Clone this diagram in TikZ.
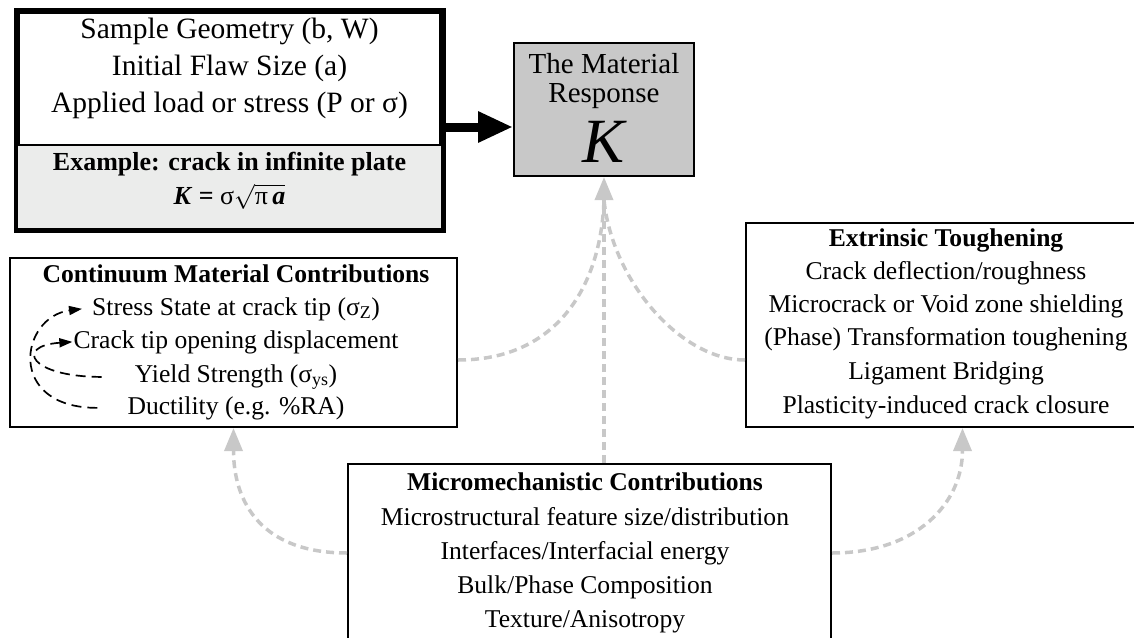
\documentclass[tikz,border=0pt]{standalone}
\usepackage{fontspec}
\setmainfont{Liberation Serif}
\usetikzlibrary{arrows.meta,calc}
\definecolor{kfill}{RGB}{200,200,200}
\definecolor{lowfill}{RGB}{235,236,235}
\definecolor{conn}{RGB}{200,200,200}
\begin{document}
\begin{tikzpicture}[x=1pt,y=-1pt,
  box/.style={draw, line width=2pt, inner sep=0pt},
  txt/.style={anchor=base, inner sep=0pt, font=\fontsize{25.6}{30}\selectfont},
  ttl/.style={anchor=base, inner sep=0pt, font=\fontsize{25.6}{30}\selectfont\bfseries},
  big/.style={anchor=base, inner sep=0pt, font=\fontsize{29}{34}\selectfont},
  geotxt/.style={anchor=base, inner sep=0pt, font=\fontsize{29.5}{34}\selectfont},
  gconn/.style={draw=conn, line width=3.5pt, dash pattern=on 8pt off 5pt},
  garrow/.style={gconn, -{Triangle[width=18pt,length=23pt,fill=conn]}},
  barrow/.style={draw, line width=1.7pt, dash pattern=on 10pt off 6pt, -{Triangle[width=9pt,length=13pt]}},
]
\useasboundingbox (0,0) rectangle (1134,637);

% top-left box
\node[box, line width=4.5pt, minimum width=423pt, minimum height=216pt, fill=white] (geo) at (229.5,120) {};
\fill[lowfill] (18.25,145) rectangle (440.75,227.75);
\draw[line width=1.5pt] (18,145) -- (441,145);
\draw[line width=4.5pt] (geo.north west) rectangle (geo.south east);
\node[geotxt] (g1) at (229.5,38) {Sample Geometry (b, W)};
\node[geotxt] (g2) at (229.5,75) {Initial Flaw Size (a)};
\node[geotxt] (g3) at (229.5,112) {Applied load or stress (P or σ)};
\node[anchor=base, inner sep=0pt, font=\fontsize{26}{30}\selectfont\bfseries] (ex) at (229.5,170) {Example: crack in infinite plate};
\node[anchor=base, inner sep=0pt, font=\fontsize{26}{30}\selectfont\bfseries] (fm) at (229.5,204) {\textit{K} = {\mdseries σ}$\sqrt{\hbox{\mdseries π\,\bfseries\itshape a}}$};

% material response
\node[box, fill=kfill, minimum width=180pt, minimum height=133pt] (K) at (604,109.5) {};
\node[big] (k1) at (604,73) {The Material};
\node[big] (k2) at (604,102) {Response};
\node[anchor=base, inner sep=0pt, font=\fontsize{63}{70}\selectfont\itshape] (k3) at (604,162) {K};

\draw[line width=9pt, -{Triangle[width=29pt,length=35pt]}] ([yshift=-7pt]geo.east) -- ([yshift=-17.5pt]K.west);

% continuum box
\node[box, minimum width=447pt, minimum height=169pt] (cont) at (233.5,342.5) {};
\node[ttl] (c0) at (236,282) {Continuum Material Contributions};
\node[txt] (c1) at (236,315) {Stress State at crack tip (σ\textsubscript{Z})};
\node[txt] (c2) at (236,348) {Crack tip opening displacement};
\node[txt] (c3) at (236,382) {Yield Strength (σ\textsubscript{ys})};
\node[txt] (c4) at (236,414) {Ductility (e.g. \%RA)};
\draw[barrow] ([xshift=-33pt]c3.west) .. controls +(-72,0) and +(-58,4) .. ([xshift=-1pt]c2.west);
\draw[barrow] ([xshift=-30pt]c4.west) .. controls +(-92,0) and +(-62,8) .. ([xshift=-10pt]c1.west);

% extrinsic box
\node[box, minimum width=403pt, minimum height=204pt] (ext) at (947.5,325) {};
\node[ttl] (e0) at (946,246) {Extrinsic Toughening};
\node[txt] (e1) at (946,279) {Crack deflection/roughness};
\node[txt] (e2) at (946,312) {Microcrack or Void zone shielding};
\node[txt] (e3) at (946,345) {(Phase) Transformation toughening};
\node[txt] (e4) at (946,379) {Ligament Bridging};
\node[txt] (e5) at (946,413) {Plasticity-induced crack closure};

% micromechanistic box
\node[box, minimum width=483pt, minimum height=178pt] (micro) at (589.5,553) {};
\node[ttl] (m0) at (585,490) {Micromechanistic Contributions};
\node[txt] (m1) at (585,525) {Microstructural feature size/distribution};
\node[txt] (m2) at (585,559) {Interfaces/Interfacial energy};
\node[txt] (m3) at (585,593) {Bulk/Phase Composition};
\node[txt] (m4) at (585,627) {Texture/Anisotropy};

% grey connectors
\coordinate (kin) at ($(K.south)+(0,23)$);
\draw[gconn] ([yshift=-17.5pt]cont.east) .. controls +(100,0) and +(-3,85) .. (kin);
\draw[gconn] ([yshift=-35pt]ext.west) .. controls +(-65,0) and +(8,80) .. (kin);
\draw[garrow] (K.south |- micro.north) -- (K.south);
\draw[garrow] (micro.west) .. controls +(-85,0) and +(0,75) .. (cont.south);
\draw[garrow] (micro.east) .. controls +(85,0) and +(0,75) .. ([xshift=15pt]ext.south);
\end{tikzpicture}
\end{document}
